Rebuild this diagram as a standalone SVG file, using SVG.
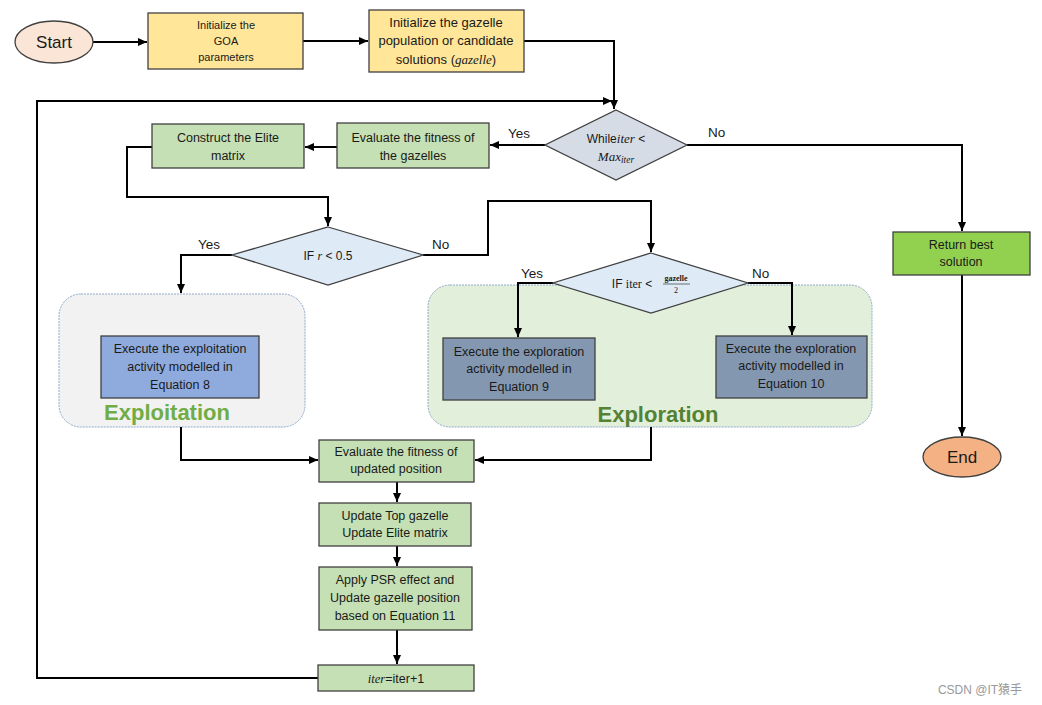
<svg xmlns="http://www.w3.org/2000/svg" width="1042" height="705" viewBox="0 0 1042 705">
<defs>
<marker id="ah" markerWidth="9" markerHeight="8" refX="9" refY="4" orient="auto" markerUnits="userSpaceOnUse">
<path d="M0,0 L9,4 L0,8 Z" fill="#000"/>
</marker>
<style>
text{font-family:"Liberation Sans","Open Sans",sans-serif;font-size:12.5px;fill:#1a1a1a;text-anchor:middle}
.m{font-family:"Liberation Serif",serif;font-style:italic}
.box{stroke:#404040;stroke-width:1.3}
.yel{fill:#FFE699}
.grn{fill:#C5E0B4}
.lbl{font-size:13.5px;text-anchor:start}
.c{fill:none;stroke:#000;stroke-width:2}
</style>
</defs>
<rect width="1042" height="705" fill="#fff"/>

<g id="exploitation-group">
<rect x="59" y="294" width="246" height="133" rx="22" fill="#F2F2F2" stroke="#8EA9C8" stroke-width="1" stroke-dasharray="2,1"/>
<text x="167" y="420" style="font-size:22px;font-weight:bold;fill:#70AD47">Exploitation</text>
</g>
<g id="exploration-group">
<rect x="428" y="285" width="444" height="142" rx="22" fill="#E2EFDA" stroke="#8EA9C8" stroke-width="1" stroke-dasharray="2,1"/>
<text x="658" y="422" style="font-size:22px;font-weight:bold;fill:#548235">Exploration</text>
</g>

<g id="connectors">
<path class="c" d="M93,42 H147" marker-end="url(#ah)"/>
<path class="c" d="M303,41 H368" marker-end="url(#ah)"/>
<path class="c" d="M524,41 H614 V109" marker-end="url(#ah)"/>
<path class="c" d="M318,678 H37 V101 H612" marker-end="url(#ah)"/>
<path class="c" d="M545,145 H490" marker-end="url(#ah)"/>
<path class="c" d="M337,147 H305" marker-end="url(#ah)"/>
<path class="c" d="M152,147 H127 V197 H328 V226" marker-end="url(#ah)"/>
<path class="c" d="M232,255 H181 V293" marker-end="url(#ah)"/>
<path class="c" d="M423,255 H488 V201 H651 V252" marker-end="url(#ah)"/>
<path class="c" d="M553,283 H518 V337" marker-end="url(#ah)"/>
<path class="c" d="M748,283 H792 V335" marker-end="url(#ah)"/>
<path class="c" d="M181,427 V460 H318" marker-end="url(#ah)"/>
<path class="c" d="M651,427 V460 H475" marker-end="url(#ah)"/>
<path class="c" d="M397,482 V502" marker-end="url(#ah)"/>
<path class="c" d="M397,546 V566" marker-end="url(#ah)"/>
<path class="c" d="M397,630 V664" marker-end="url(#ah)"/>
<path class="c" d="M687,145 H962 V231" marker-end="url(#ah)"/>
<path class="c" d="M962,275 V436" marker-end="url(#ah)"/>
<text class="lbl" x="508" y="138">Yes</text>
<text class="lbl" x="708" y="137">No</text>
<text class="lbl" x="198" y="249">Yes</text>
<text class="lbl" x="432" y="249">No</text>
<text class="lbl" x="521" y="278">Yes</text>
<text class="lbl" x="752" y="278">No</text>
</g>

<g id="start">
<ellipse cx="54" cy="42" rx="39" ry="21" fill="#FBE5D6" stroke="#404040" stroke-width="1.3"/>
<text x="54" y="48" style="font-size:17px">Start</text>
</g>
<g id="init-params">
<rect class="box yel" x="148" y="13" width="155" height="56"/>
<text x="226" y="29" style="font-size:11px">Initialize the</text>
<text x="226" y="45" style="font-size:11px">GOA</text>
<text x="226" y="61" style="font-size:11px">parameters</text>
</g>
<g id="init-population">
<rect class="box yel" x="369" y="10" width="155" height="62"/>
<text x="446" y="27" style="font-size:13px">Initialize the gazelle</text>
<text x="446" y="45" style="font-size:13px">population or candidate</text>
<text x="446" y="64" style="font-size:13px">solutions (<tspan class="m">gazelle</tspan>)</text>
</g>
<g id="while">
<polygon points="616,110 687,145 616,180 545,145" fill="#D6DCE5" stroke="#404040" stroke-width="1.3"/>
<text x="616" y="143" style="font-size:12px">While<tspan class="m" style="font-size:13px">iter</tspan> &lt;</text>
<text x="616" y="161" style="font-size:13px"><tspan class="m">Max<tspan style="font-size:9.5px" dy="2">iter</tspan></tspan></text>
</g>
<g id="evaluate-fitness">
<rect class="box grn" x="337" y="123" width="152" height="45"/>
<text x="413" y="142">Evaluate the fitness of</text>
<text x="413" y="160">the gazelles</text>
</g>
<g id="construct-elite">
<rect class="box grn" x="152" y="124" width="152" height="44"/>
<text x="228" y="142">Construct the Elite</text>
<text x="228" y="160">matrix</text>
</g>
<g id="if-r">
<polygon points="328,227 423,255 328,285 232,255" fill="#DEEBF7" stroke="#404040" stroke-width="1.3"/>
<text x="328" y="260" style="font-size:12px">IF <tspan class="m">r</tspan> &lt; 0.5</text>
</g>
<g id="if-iter">
<polygon points="651,253 748,283 651,313 553,283" fill="#DEEBF7" stroke="#404040" stroke-width="1.3"/>
<text x="632" y="288" style="font-size:12px">IF <tspan style="font-family:'Liberation Serif',serif">iter</tspan> &lt;</text>
<text x="676" y="281" style="font-size:8px;font-family:'Liberation Serif',serif;font-weight:bold">gazelle</text>
<line x1="663" y1="284" x2="690" y2="284" stroke="#1a1a1a" stroke-width="0.6"/>
<text x="676" y="293" style="font-size:8px;font-family:'Liberation Serif',serif">2</text>
</g>
<g id="eq8">
<rect class="box" x="101" y="336" width="158" height="62" fill="#8FAADC"/>
<text x="180" y="353">Execute the exploitation</text>
<text x="180" y="371">activity modelled in</text>
<text x="180" y="389">Equation 8</text>
</g>
<g id="eq9">
<rect class="box" x="443" y="338" width="152" height="62" fill="#8497B0"/>
<text x="519" y="356">Execute the exploration</text>
<text x="519" y="373">activity modelled in</text>
<text x="519" y="391">Equation 9</text>
</g>
<g id="eq10">
<rect class="box" x="716" y="336" width="151" height="62" fill="#8497B0"/>
<text x="791" y="353">Execute the exploration</text>
<text x="791" y="370">activity modelled in</text>
<text x="791" y="388">Equation 10</text>
</g>
<g id="evaluate-updated">
<rect class="box grn" x="319" y="440" width="155" height="42"/>
<text x="396" y="456">Evaluate the fitness of</text>
<text x="396" y="473">updated position</text>
</g>
<g id="update-top">
<rect class="box grn" x="319" y="503" width="152" height="43"/>
<text x="395" y="520">Update Top gazelle</text>
<text x="395" y="537">Update Elite matrix</text>
</g>
<g id="apply-psr">
<rect class="box grn" x="319" y="567" width="153" height="63"/>
<text x="395" y="584">Apply PSR effect and</text>
<text x="395" y="602">Update gazelle position</text>
<text x="395" y="620">based on Equation 11</text>
</g>
<g id="iter-inc">
<rect class="box grn" x="318" y="665" width="156" height="26"/>
<text x="396" y="683"><tspan class="m">iter</tspan>=iter+1</text>
</g>
<g id="return-best">
<rect class="box" x="893" y="232" width="137" height="43" fill="#92D050"/>
<text x="961" y="249">Return best</text>
<text x="961" y="266">solution</text>
</g>
<g id="end">
<ellipse cx="962" cy="457" rx="39" ry="20" fill="#F4B183" stroke="#404040" stroke-width="1.3"/>
<text x="962" y="463" style="font-size:17px">End</text>
</g>
<text x="980" y="694" style="font-size:12px;fill:#999;font-family:'Liberation Sans','Noto Sans CJK SC',sans-serif">CSDN @IT猿手</text>
</svg>
